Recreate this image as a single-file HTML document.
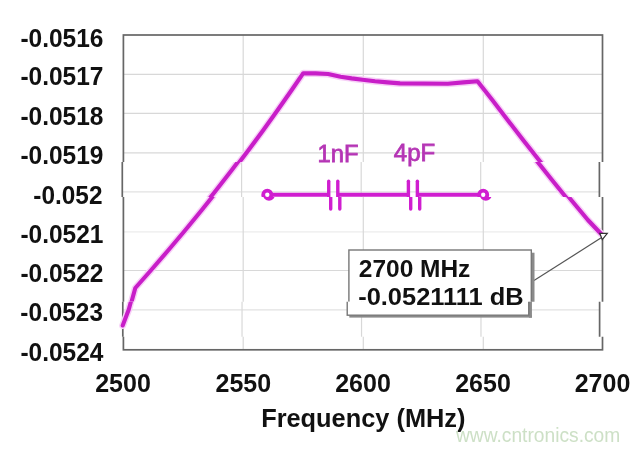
<!DOCTYPE html>
<html><head><meta charset="utf-8"><style>
html,body{margin:0;padding:0;background:#fff;}
svg{display:block;}
text{font-family:"Liberation Sans",Arial,sans-serif;}
.yl{font-weight:bold;font-size:25px;fill:#111;}
.xl{font-weight:bold;font-size:25px;fill:#111;}
</style></head><body>
<svg width="640" height="451" viewBox="0 0 640 451">
<defs>
<clipPath id="b0"><rect x="0" y="0" width="640" height="162.00"/></clipPath>
<clipPath id="b1"><rect x="0" y="162.0" width="640" height="34.90"/></clipPath>
<clipPath id="b2"><rect x="0" y="196.9" width="640" height="104.90"/></clipPath>
<clipPath id="b3"><rect x="0" y="301.8" width="640" height="35.00"/></clipPath>
<clipPath id="b4"><rect x="0" y="336.8" width="640" height="114.20"/></clipPath>
</defs>
<rect width="640" height="451" fill="#fff"/>
<g clip-path="url(#b0)">
<g stroke-width="1.2" fill="none">
<line x1="123.4" y1="74.3" x2="602.5" y2="74.3" stroke="#d8d8d8"/>
<line x1="123.4" y1="113.3" x2="602.5" y2="113.3" stroke="#d8d8d8"/>
<line x1="123.4" y1="152.9" x2="602.5" y2="152.9" stroke="#d8d8d8"/>
<line x1="243.2" y1="35" x2="243.2" y2="349.8" stroke="#d8d8d8"/>
<line x1="363.3" y1="35" x2="363.3" y2="349.8" stroke="#d8d8d8"/>
<line x1="483.3" y1="35" x2="483.3" y2="349.8" stroke="#d8d8d8"/>
</g>
<rect x="123.4" y="35" width="479.1" height="314.8" fill="none" stroke="#666" stroke-width="1.7"/>
<g fill="none" stroke-linejoin="round" stroke-linecap="round">
<polyline stroke="#f7d0f7" stroke-width="7" points="123.3,325.5 129.4,309.5 135.3,288 151.2,270 168.5,250 185.4,230 201.8,210 217.8,190 233.4,170 248.6,150 263.4,130 277.7,110 291.7,90 303.3,73.2 315.6,73.4 328.1,74 340.6,76.8 351.6,78.4 362.5,79.7 375,81.3 387.5,82.4 400,83.4 447.8,83.7 463.3,82.4 477.5,81.2 492.3,100 507.6,120 523.1,140 538.9,160 554.9,180 571.2,200 587.9,220 601.2,234"/>
<polyline stroke="#c81ec8" stroke-width="4.1" points="123.3,325.5 129.4,309.5 135.3,288 151.2,270 168.5,250 185.4,230 201.8,210 217.8,190 233.4,170 248.6,150 263.4,130 277.7,110 291.7,90 303.3,73.2 315.6,73.4 328.1,74 340.6,76.8 351.6,78.4 362.5,79.7 375,81.3 387.5,82.4 400,83.4 447.8,83.7 463.3,82.4 477.5,81.2 492.3,100 507.6,120 523.1,140 538.9,160 554.9,180 571.2,200 587.9,220 601.2,234"/>
</g>
</g>
<g clip-path="url(#b1)"><g transform="matrix(0.995833,0,0,1,-0.5875,0)">
<g stroke-width="1.2" fill="none">
<line x1="123.4" y1="191.9" x2="602.5" y2="191.9" stroke="#e2e2e2"/>
<line x1="243.2" y1="35" x2="243.2" y2="349.8" stroke="#d8d8d8"/>
<line x1="363.3" y1="35" x2="363.3" y2="349.8" stroke="#d8d8d8"/>
<line x1="483.3" y1="35" x2="483.3" y2="349.8" stroke="#d8d8d8"/>
</g>
<rect x="123.4" y="35" width="479.1" height="314.8" fill="none" stroke="#666" stroke-width="1.7"/>
<g fill="none" stroke-linejoin="round" stroke-linecap="round">
<polyline stroke="#f7d0f7" stroke-width="7" points="123.3,325.5 129.4,309.5 135.3,288 151.2,270 168.5,250 185.4,230 201.8,210 217.8,190 233.4,170 248.6,150 263.4,130 277.7,110 291.7,90 303.3,73.2 315.6,73.4 328.1,74 340.6,76.8 351.6,78.4 362.5,79.7 375,81.3 387.5,82.4 400,83.4 447.8,83.7 463.3,82.4 477.5,81.2 492.3,100 507.6,120 523.1,140 538.9,160 554.9,180 571.2,200 587.9,220 601.2,234"/>
<polyline stroke="#c81ec8" stroke-width="4.1" points="123.3,325.5 129.4,309.5 135.3,288 151.2,270 168.5,250 185.4,230 201.8,210 217.8,190 233.4,170 248.6,150 263.4,130 277.7,110 291.7,90 303.3,73.2 315.6,73.4 328.1,74 340.6,76.8 351.6,78.4 362.5,79.7 375,81.3 387.5,82.4 400,83.4 447.8,83.7 463.3,82.4 477.5,81.2 492.3,100 507.6,120 523.1,140 538.9,160 554.9,180 571.2,200 587.9,220 601.2,234"/>
</g>
<g stroke="#d01ed0" fill="none">
<circle cx="269.0" cy="194.7" r="4.1" stroke-width="3.8"/>
<line x1="273.1" y1="194.7" x2="330.7" y2="194.7" stroke-width="4"/>
<line x1="339.8" y1="194.7" x2="410.7" y2="194.7" stroke-width="4"/>
<line x1="419.7" y1="194.7" x2="481.7" y2="194.7" stroke-width="4"/>
<circle cx="485.8" cy="194.7" r="4.1" stroke-width="3.8"/>
<g stroke-width="3.4" stroke-linecap="round">
<line x1="330.7" y1="181.2" x2="330.7" y2="209"/>
<line x1="339.8" y1="181.2" x2="339.8" y2="209"/>
<line x1="410.7" y1="181.2" x2="410.7" y2="209"/>
<line x1="419.7" y1="181.2" x2="419.7" y2="209"/>
</g></g>
</g></g>
<g clip-path="url(#b2)">
<g stroke-width="1.2" fill="none">
<line x1="123.4" y1="231.8" x2="602.5" y2="231.8" stroke="#ececec"/>
<line x1="123.4" y1="270.5" x2="602.5" y2="270.5" stroke="#d8d8d8"/>
<line x1="243.2" y1="35" x2="243.2" y2="349.8" stroke="#d8d8d8"/>
<line x1="363.3" y1="35" x2="363.3" y2="349.8" stroke="#d8d8d8"/>
<line x1="483.3" y1="35" x2="483.3" y2="349.8" stroke="#d8d8d8"/>
</g>
<rect x="123.4" y="35" width="479.1" height="314.8" fill="none" stroke="#666" stroke-width="1.7"/>
<g fill="none" stroke-linejoin="round" stroke-linecap="round">
<polyline stroke="#f7d0f7" stroke-width="7" points="123.3,325.5 129.4,309.5 135.3,288 151.2,270 168.5,250 185.4,230 201.8,210 217.8,190 233.4,170 248.6,150 263.4,130 277.7,110 291.7,90 303.3,73.2 315.6,73.4 328.1,74 340.6,76.8 351.6,78.4 362.5,79.7 375,81.3 387.5,82.4 400,83.4 447.8,83.7 463.3,82.4 477.5,81.2 492.3,100 507.6,120 523.1,140 538.9,160 554.9,180 571.2,200 587.9,220 601.2,234"/>
<polyline stroke="#c81ec8" stroke-width="4.1" points="123.3,325.5 129.4,309.5 135.3,288 151.2,270 168.5,250 185.4,230 201.8,210 217.8,190 233.4,170 248.6,150 263.4,130 277.7,110 291.7,90 303.3,73.2 315.6,73.4 328.1,74 340.6,76.8 351.6,78.4 362.5,79.7 375,81.3 387.5,82.4 400,83.4 447.8,83.7 463.3,82.4 477.5,81.2 492.3,100 507.6,120 523.1,140 538.9,160 554.9,180 571.2,200 587.9,220 601.2,234"/>
</g>
<g stroke="#d01ed0" fill="none">
<circle cx="269.0" cy="194.7" r="4.1" stroke-width="3.8"/>
<line x1="273.1" y1="194.7" x2="330.7" y2="194.7" stroke-width="4"/>
<line x1="339.8" y1="194.7" x2="410.7" y2="194.7" stroke-width="4"/>
<line x1="419.7" y1="194.7" x2="481.7" y2="194.7" stroke-width="4"/>
<circle cx="485.8" cy="194.7" r="4.1" stroke-width="3.8"/>
<g stroke-width="3.4" stroke-linecap="round">
<line x1="330.7" y1="181.2" x2="330.7" y2="209"/>
<line x1="339.8" y1="181.2" x2="339.8" y2="209"/>
<line x1="410.7" y1="181.2" x2="410.7" y2="209"/>
<line x1="419.7" y1="181.2" x2="419.7" y2="209"/>
</g></g>
<line x1="534" y1="280.6" x2="602" y2="237.3" stroke="#555" stroke-width="1.2"/>
<path d="M599.8,233.3 L607.3,233.3 L602.3,239.6 Z" fill="#fff" stroke="#333" stroke-width="1.2"/>
<rect x="531.5" y="252.7" width="3" height="65" fill="#8a8a8a"/>
<rect x="351" y="315.2" width="183.5" height="2.4" fill="#8a8a8a"/>
<rect x="348.9" y="250" width="182.4" height="65.2" fill="#fff" stroke="#777" stroke-width="1.4"/>
</g>
<g clip-path="url(#b3)"><g transform="matrix(0.995208,0,0,1,-0.0106,0)">
<g stroke-width="1.2" fill="none">
<line x1="123.4" y1="309.9" x2="602.5" y2="309.9" stroke="#e2e2e2"/>
<line x1="243.2" y1="35" x2="243.2" y2="349.8" stroke="#d8d8d8"/>
<line x1="363.3" y1="35" x2="363.3" y2="349.8" stroke="#d8d8d8"/>
<line x1="483.3" y1="35" x2="483.3" y2="349.8" stroke="#d8d8d8"/>
</g>
<rect x="123.4" y="35" width="479.1" height="314.8" fill="none" stroke="#666" stroke-width="1.7"/>
<g fill="none" stroke-linejoin="round" stroke-linecap="round">
<polyline stroke="#f7d0f7" stroke-width="7" points="123.3,325.5 129.4,309.5 135.3,288 151.2,270 168.5,250 185.4,230 201.8,210 217.8,190 233.4,170 248.6,150 263.4,130 277.7,110 291.7,90 303.3,73.2 315.6,73.4 328.1,74 340.6,76.8 351.6,78.4 362.5,79.7 375,81.3 387.5,82.4 400,83.4 447.8,83.7 463.3,82.4 477.5,81.2 492.3,100 507.6,120 523.1,140 538.9,160 554.9,180 571.2,200 587.9,220 601.2,234"/>
<polyline stroke="#c81ec8" stroke-width="4.1" points="123.3,325.5 129.4,309.5 135.3,288 151.2,270 168.5,250 185.4,230 201.8,210 217.8,190 233.4,170 248.6,150 263.4,130 277.7,110 291.7,90 303.3,73.2 315.6,73.4 328.1,74 340.6,76.8 351.6,78.4 362.5,79.7 375,81.3 387.5,82.4 400,83.4 447.8,83.7 463.3,82.4 477.5,81.2 492.3,100 507.6,120 523.1,140 538.9,160 554.9,180 571.2,200 587.9,220 601.2,234"/>
</g>
<line x1="534" y1="280.6" x2="602" y2="237.3" stroke="#555" stroke-width="1.2"/>
<path d="M599.8,233.3 L607.3,233.3 L602.3,239.6 Z" fill="#fff" stroke="#333" stroke-width="1.2"/>
<rect x="531.5" y="252.7" width="3" height="65" fill="#8a8a8a"/>
<rect x="351" y="315.2" width="183.5" height="2.4" fill="#8a8a8a"/>
<rect x="348.9" y="250" width="182.4" height="65.2" fill="#fff" stroke="#777" stroke-width="1.4"/>
</g></g>
<g clip-path="url(#b4)">
<g stroke-width="1.2" fill="none">
<line x1="243.2" y1="35" x2="243.2" y2="349.8" stroke="#d8d8d8"/>
<line x1="363.3" y1="35" x2="363.3" y2="349.8" stroke="#d8d8d8"/>
<line x1="483.3" y1="35" x2="483.3" y2="349.8" stroke="#d8d8d8"/>
</g>
<rect x="123.4" y="35" width="479.1" height="314.8" fill="none" stroke="#666" stroke-width="1.7"/>
<g fill="none" stroke-linejoin="round" stroke-linecap="round">
<polyline stroke="#f7d0f7" stroke-width="7" points="123.3,325.5 129.4,309.5 135.3,288 151.2,270 168.5,250 185.4,230 201.8,210 217.8,190 233.4,170 248.6,150 263.4,130 277.7,110 291.7,90 303.3,73.2 315.6,73.4 328.1,74 340.6,76.8 351.6,78.4 362.5,79.7 375,81.3 387.5,82.4 400,83.4 447.8,83.7 463.3,82.4 477.5,81.2 492.3,100 507.6,120 523.1,140 538.9,160 554.9,180 571.2,200 587.9,220 601.2,234"/>
<polyline stroke="#c81ec8" stroke-width="4.1" points="123.3,325.5 129.4,309.5 135.3,288 151.2,270 168.5,250 185.4,230 201.8,210 217.8,190 233.4,170 248.6,150 263.4,130 277.7,110 291.7,90 303.3,73.2 315.6,73.4 328.1,74 340.6,76.8 351.6,78.4 362.5,79.7 375,81.3 387.5,82.4 400,83.4 447.8,83.7 463.3,82.4 477.5,81.2 492.3,100 507.6,120 523.1,140 538.9,160 554.9,180 571.2,200 587.9,220 601.2,234"/>
</g>
</g>
<g class="yl">
<text transform="translate(103.5,46.5) scale(0.98,1)" text-anchor="end">-0.0516</text>
<text transform="translate(103.5,85.2) scale(0.98,1)" text-anchor="end">-0.0517</text>
<text transform="translate(103.5,124.6) scale(0.98,1)" text-anchor="end">-0.0518</text>
<text transform="translate(103.5,163.8) scale(0.98,1)" text-anchor="end">-0.0519</text>
<g transform="matrix(0.995833,0,0,1,-0.5875,0)"><text transform="translate(103.5,203.8) scale(0.98,1)" text-anchor="end">-0.052</text></g>
<text transform="translate(103.5,242.6) scale(0.98,1)" text-anchor="end">-0.0521</text>
<text transform="translate(103.5,282.4) scale(0.98,1)" text-anchor="end">-0.0522</text>
<g transform="matrix(0.995208,0,0,1,-0.0106,0)"><text transform="translate(103.5,321.1) scale(0.98,1)" text-anchor="end">-0.0523</text></g>
<text transform="translate(103.5,361.3) scale(0.98,1)" text-anchor="end">-0.0524</text>
</g>
<g style="font-size:24px;fill:#b535b5;stroke:#b535b5;stroke-width:0.8">
<text transform="translate(317.6,161.6) scale(0.99,1)">1nF</text>
<text transform="translate(393.8,161.2) scale(1.0,1)">4pF</text>
</g>
<g style="font-weight:bold;font-size:24px;fill:#111">
<text transform="translate(358.8,276.9) scale(1.02,1)">2700 MHz</text>
<text transform="translate(358.2,305.2) scale(1.06,1)">-0.0521111 dB</text>
</g>
<g class="xl" text-anchor="middle">
<text x="123" y="391.9">2500</text>
<text x="243.3" y="391.9">2550</text>
<text x="363" y="391.9">2600</text>
<text x="483" y="391.9">2650</text>
<text x="602.5" y="391.9">2700</text>
</g>
<text transform="translate(363.3,426.9) scale(1.015,1)" text-anchor="middle" style="font-weight:bold;font-size:25px;fill:#111">Frequency (MHz)</text>
<text transform="translate(456,441.5) scale(0.96,1)" style="font-size:20px;fill:#cde0c6">www.cntronics.com</text>
</svg>
</body></html>
